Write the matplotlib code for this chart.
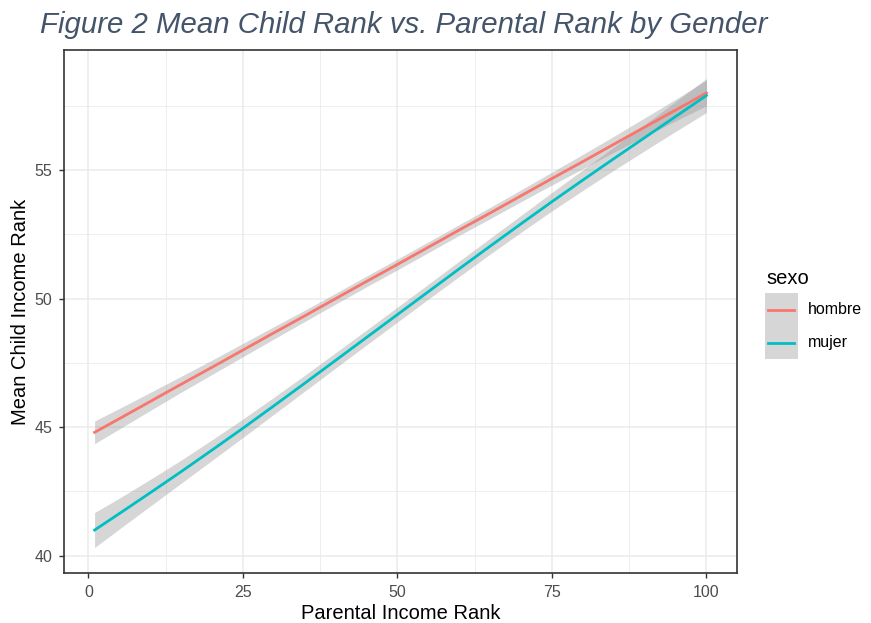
import matplotlib
matplotlib.use("Agg")
import matplotlib.pyplot as plt
from matplotlib.lines import Line2D
from matplotlib.patches import Rectangle

plt.rcParams['font.family'] = ['Liberation Sans', 'DejaVu Sans']

# smoothed mean child rank by parental rank, with standard error half-widths
parent_rank = [1, 5, 10, 15, 20, 25, 30, 35, 40, 45, 50,
               55, 60, 65, 70, 75, 80, 85, 90, 95, 100]
hombre = [44.80, 45.33, 46.00, 46.67, 47.33, 48.00, 48.67, 49.33, 50.00, 50.67, 51.33,
          52.00, 52.67, 53.33, 54.00, 54.67, 55.33, 56.00, 56.67, 57.33, 58.00]
hombre_se = [0.44, 0.40, 0.35, 0.31, 0.28, 0.26, 0.24, 0.22, 0.21, 0.21, 0.21,
             0.21, 0.21, 0.22, 0.23, 0.25, 0.28, 0.31, 0.36, 0.42, 0.50]
mujer = [41.00, 41.64, 42.45, 43.27, 44.11, 44.96, 45.83, 46.71, 47.60, 48.49, 49.38,
         50.27, 51.16, 52.04, 52.91, 53.77, 54.61, 55.44, 56.26, 57.08, 57.90]
mujer_se = [0.68, 0.60, 0.52, 0.45, 0.40, 0.36, 0.33, 0.31, 0.30, 0.29, 0.29,
            0.29, 0.30, 0.31, 0.33, 0.36, 0.40, 0.45, 0.51, 0.58, 0.66]

groups = ['hombre', 'mujer']
colors = {'hombre': '#F8766D', 'mujer': '#00BFC4'}
series = {'hombre': (hombre, hombre_se), 'mujer': (mujer, mujer_se)}

W, H = 871, 623
fig = plt.figure(figsize=(W / 100, H / 100), dpi=100)
ax = fig.add_axes([64 / W, 1 - 573 / H, (737 - 64) / W, (573 - 50) / H])

# band first, then the line, group by group
for g in groups:
    y, se = series[g]
    lo = [v - s for v, s in zip(y, se)]
    hi = [v + s for v, s in zip(y, se)]
    ax.fill_between(parent_rank, lo, hi, color='#999999', alpha=0.4, lw=0, zorder=3)
    ax.plot(parent_rank, y, color=colors[g], lw=2, zorder=4)

ax.set_xlim(-3.95, 104.95)
ax.set_ylim(39.33, 59.67)
ax.set_xticks([0, 25, 50, 75, 100])
ax.set_yticks([40, 45, 50, 55])
ax.set_xticks([12.5, 37.5, 62.5, 87.5], minor=True)
ax.set_yticks([42.5, 47.5, 52.5, 57.5], minor=True)
ax.grid(which='major', color='#EBEBEB', lw=1.1, zorder=0)
ax.grid(which='minor', color='#EBEBEB', lw=0.6, zorder=0)
ax.set_axisbelow(True)
ax.tick_params(which='major', length=3.6, width=1, color='#333333',
               labelsize=11.5, labelcolor='#4D4D4D', pad=5)
ax.tick_params(which='minor', length=0)
for sp in ax.spines.values():
    sp.set_color('#333333')
    sp.set_linewidth(1.2)

ax.set_xlabel('Parental Income Rank', fontsize=14.5, labelpad=3)
ax.set_ylabel('Mean Child Income Rank', fontsize=14.5, labelpad=3)

fig.text(40 / W, 1 - 33 / H, 'Figure 2 Mean Child Rank vs. Parental Rank by Gender',
         fontsize=21.2, style='italic', color='#44546A', va='baseline', ha='left')

# legend drawn by hand: grey key boxes stacked with coloured line segments
fig.text(766 / W, 1 - 279 / H, 'sexo', fontsize=14.5, va='center', ha='left')
key_top = 293
key_h = 33
for i, g in enumerate(groups):
    top = key_top + i * key_h
    fig.add_artist(Rectangle((765 / W, 1 - (top + key_h) / H), 33 / W, key_h / H,
                             transform=fig.transFigure, facecolor='#D6D6D6',
                             edgecolor='none'))
    yc = 1 - (top + key_h / 2) / H
    fig.add_artist(Line2D([768 / W, 794 / W], [yc, yc], transform=fig.transFigure,
                          color=colors[g], lw=2))
    fig.text(808 / W, yc, g, fontsize=11.5, va='center', ha='left')

fig.savefig('out.png', dpi=100)
